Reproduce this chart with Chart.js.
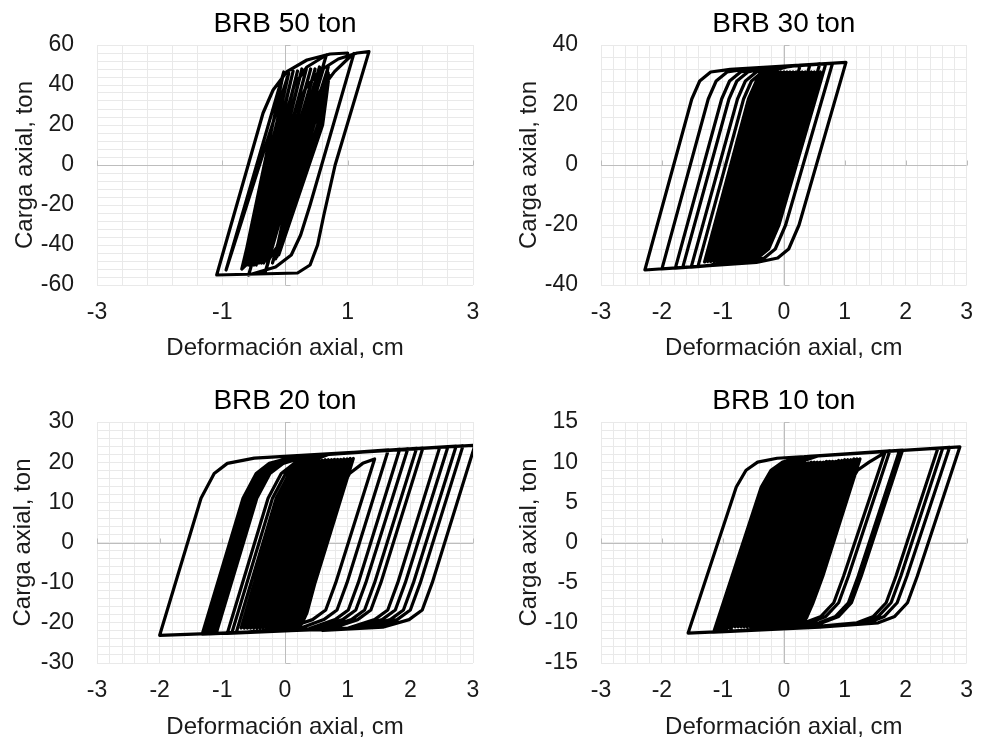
<!DOCTYPE html>
<html>
<head>
<meta charset="utf-8">
<script src="https://cdn.jsdelivr.net/npm/chart.js@4.4.1/dist/chart.umd.min.js"></script>
<style>
  html, body { margin: 0; padding: 0; background: #ffffff; }
  body { width: 987px; height: 741px; position: relative; overflow: hidden; }
  canvas { position: absolute; }
</style>
</head>
<body>
<canvas id="c1" width="494" height="370" style="left:0;top:0"></canvas>
<canvas id="c2" width="493" height="370" style="left:494px;top:0"></canvas>
<canvas id="c3" width="494" height="371" style="left:0;top:370px"></canvas>
<canvas id="c4" width="493" height="371" style="left:494px;top:370px"></canvas>
<script>
// ---- Data (deformation cm, axial load ton) ----
const titles = ['BRB 50 ton', 'BRB 30 ton', 'BRB 20 ton', 'BRB 10 ton'];
const xTitle = 'Deformación axial, cm';
const yTitle = 'Carga axial, ton';
const xMin = -3, xMax = 3;
const xMajor = [2, 1, 1, 1];
const xMinor = [0.4, 0.2, 0.2, 0.2];
const yLimit = [60, 40, 30, 15];
const yMajor = [20, 20, 10, 5];
const yMinor = [4, 4, 2, 1];

const brb50 = [
  [0,0],[-0.42,-44],[-0.69,-52],
  [0.05,45],[-0.94,-52.5],[-0.02,46.5],
  [-0.66,-49],[0.06,46],[-0.62,-50],[0.13,47],[-0.58,-50],[0.20,47],[-0.54,-50],[0.27,48],[-0.50,-50],[0.34,48],
  [-0.46,-50],[0.41,48],[-0.42,-49],[0.48,48],[-0.38,-49],[0.55,49],[-0.34,-49],[0.62,49],[-0.30,-48],[0.69,49],
  [0.0,-23],[-0.10,-38],[-0.20,-49],
  [0.52,20],[0.61,36],[0.68,47],
  [-0.02,-26],[-0.11,-39],[-0.15,-47],
  [0.56,20],[0.64,35],[0.69,46],
  [0.0,-25],[-0.09,-38],[-0.13,-46],
  [0.58,21],[0.65,36],[0.70,45],
  [0.03,-24],[-0.06,-37],[-0.10,-45],
  [0.60,20],[0.66,34],[0.70,44],
  [0.05,-22],[-0.05,-37],[-0.25,-47],[-0.66,-49],
  [0.02,26],[0.15,40],[0.35,49],[0.66,55],
  [-0.085,-24],[-0.20,-40],[-0.27,-49],[-0.32,-54],
  [0.41,26],[0.57,37.5],[0.79,46.7],[1.0,53],[1.10,55.8],
  [0.585,0],[0.40,-20],[0.25,-35],[0.10,-45],[-0.15,-51],[-0.58,-55],
  [0.16,26],[0.32,38],[0.55,47],[0.85,53],[1.15,56],[1.34,56.7],
  [0.80,0],[0.62,-25],[0.52,-40],[0.40,-50],[0.20,-54],[-1.09,-55],
  [-0.35,26],[-0.19,37.5],[0.03,46.7],[0.35,52.5],[0.72,55.5],[1.0,56]
];

const brb30 = [
  [0,0],[-0.29,-20],[-0.40,-27],
  [0.32,22],[0.46,29],[0.60,31],[-0.13,-20],[-0.28,-28],[-0.45,-31.5],
  [0.27,22],[0.41,29],[0.55,31],[-0.18,-20],[-0.33,-28],[-0.50,-31.5],
  [0.22,22],[0.36,29],[0.50,31],[-0.23,-20],[-0.38,-28],[-0.55,-31.6],
  [0.17,22],[0.31,29],[0.45,31],[-0.28,-20],[-0.43,-28],[-0.60,-31.6],
  [0.12,22],[0.26,29],[0.40,31],[-0.33,-20],[-0.48,-28],[-0.65,-31.7],
  [0.07,22],[0.21,29],[0.35,31],[-0.38,-20],[-0.53,-28],[-0.70,-31.7],
  [0.02,22],[0.16,29],[0.30,31],[-0.43,-20],[-0.58,-28],[-0.75,-31.8],
  [-0.03,22],[0.11,29],[0.25,31],[-0.48,-20],[-0.63,-28],[-0.80,-31.8],
  [-0.08,22],[0.06,29],[0.20,31],[-0.53,-20],[-0.68,-28],[-0.85,-31.9],
  [-0.13,22],[0.01,29],[0.15,31],[-0.58,-20],[-0.73,-28],[-0.90,-31.9],
  [-0.18,22],[-0.04,29],[0.10,31],[-0.63,-20],[-0.78,-28],[-0.95,-32],
  [-0.23,22],[-0.09,29],[0.05,31],[-0.68,-20],[-0.83,-28],[-1.00,-32],
  [-0.28,22],[-0.14,29],[0.0,31],[-0.73,-20],[-0.88,-28],[-1.05,-32],
  [-0.33,22],[-0.19,29],[-0.05,31],[-0.78,-20],[-0.93,-28],[-1.10,-32.1],
  [-0.38,22],[-0.24,29],[-0.10,31],[-0.83,-20],[-0.98,-28],[-1.15,-32.1],
  [-0.43,22],[-0.29,29],[-0.15,31],[-0.88,-20],[-1.03,-28],[-1.20,-32.2],
  [-0.48,22],[-0.34,29],[-0.20,31],[-0.93,-20],[-1.08,-28],[-1.25,-32.2],
  [-0.53,22],[-0.39,29],[-0.25,31],[-0.98,-20],[-1.13,-28],[-1.30,-32.3],
  [-0.58,22],[-0.45,28],[-0.27,31],[0.05,32.7],[0.27,33.3],
  [-0.49,-20],[-0.66,-28],[-0.84,-31],[-1.19,-33.35],[-1.41,-33.9],
  [-0.66,22],[-0.53,28],[-0.35,31],[-0.03,32.7],[0.43,33.5],
  [-0.33,-20],[-0.50,-28],[-0.68,-31],[-1.03,-33.2],[-1.52,-34.05],
  [-0.76,22],[-0.63,28],[-0.45,31],[-0.13,32.6],[0.59,33.7],
  [-0.18,-20],[-0.35,-28],[-0.53,-31],[-0.88,-33.0],[-1.66,-34.2],
  [-0.90,22],[-0.77,28],[-0.59,31],[-0.27,32.4],[0.69,33.8],
  [-0.08,-20],[-0.25,-28],[-0.43,-31],[-0.78,-32.9],[-1.78,-34.4],
  [-1.02,22],[-0.89,28],[-0.71,31],[-0.39,32.3],[0.80,33.9],
  [0.03,-20],[-0.14,-28],[-0.32,-31],[-0.67,-32.7],[-2.28,-35.0],
  [-1.51,22],[-1.38,28],[-1.20,31],[-0.88,31.9],[1.02,34.2],
  [0.25,-20],[0.08,-28],[-0.10,-31],[-0.45,-32.5],[-2.0,-34.6],
  [-1.24,22],[-1.11,28],[-0.93,31],[-0.61,32.0],[-0.2,32.7]
];

const brb20 = [
  [0,0],[-0.2,-10],[-0.45,-18.5],[-0.70,-21.3],
  [-0.08,11.5],[0.08,18],[0.24,20.3],[-0.37,-10],[-0.50,-17.5],[-0.58,-20.2],[-0.65,-21.3],
  [-0.03,11.5],[0.13,18],[0.29,20.3],[-0.32,-10],[-0.45,-17.5],[-0.53,-20.2],[-0.60,-21.3],
  [0.02,11.5],[0.18,18],[0.34,20.4],[-0.27,-10],[-0.40,-17.5],[-0.48,-20.2],[-0.55,-21.3],
  [0.07,11.5],[0.23,18],[0.39,20.4],[-0.22,-10],[-0.35,-17.5],[-0.43,-20.2],[-0.50,-21.3],
  [0.12,11.5],[0.28,18],[0.44,20.4],[-0.17,-10],[-0.30,-17.5],[-0.38,-20.2],[-0.45,-21.3],
  [0.17,11.5],[0.33,18],[0.49,20.5],[-0.12,-10],[-0.25,-17.5],[-0.33,-20.2],[-0.40,-21.3],
  [0.22,11.5],[0.38,18],[0.54,20.5],[-0.07,-10],[-0.20,-17.5],[-0.28,-20.2],[-0.35,-21.3],
  [0.27,11.5],[0.43,18],[0.59,20.5],[-0.02,-10],[-0.15,-17.5],[-0.23,-20.2],[-0.30,-21.3],
  [0.32,11.5],[0.48,18],[0.64,20.6],[0.03,-10],[-0.10,-17.5],[-0.18,-20.2],[-0.25,-21.3],
  [0.37,11.5],[0.53,18],[0.69,20.6],[0.08,-10],[-0.05,-17.5],[-0.13,-20.2],[-0.20,-21.3],
  [0.42,11.5],[0.58,18],[0.74,20.6],[0.13,-10],[0.0,-17.5],[-0.08,-20.2],[-0.15,-21.3],
  [0.47,11.5],[0.63,18],[0.79,20.7],[0.18,-10],[0.05,-17.5],[-0.03,-20.2],[-0.10,-21.3],
  [0.52,11.5],[0.68,18],[0.84,20.7],[0.23,-10],[0.10,-17.5],[0.02,-20.2],[-0.05,-21.3],
  [0.57,11.5],[0.73,18],[0.89,20.7],[0.28,-10],[0.15,-17.5],[0.07,-20.2],[0.0,-21.3],
  [0.62,11.5],[0.78,18],[0.94,20.8],[0.33,-10],[0.20,-17.5],[0.12,-20.2],[0.05,-21.3],
  [0.67,11.5],[0.83,18],[0.99,20.8],[0.38,-10],[0.25,-17.5],[0.17,-20.2],[0.10,-21.3],
  [0.72,11.5],[0.88,18],[1.04,20.9],[0.43,-10],[0.30,-17.5],[0.22,-20.2],[0.15,-21.3],
  [0.77,11.5],[0.93,18],[1.09,20.9],[0.48,-10],[0.35,-17.5],[0.27,-20.2],[0.20,-21.3],
  [0.82,11],[1.03,17.2],[1.24,19.7],[1.43,20.8],
  [0.81,-10],[0.65,-16.8],[0.44,-19.2],[0.02,-21.4],[-0.78,-22.55],
  [-0.14,11],[0.07,17.2],[0.28,19.7],[0.71,22.0],[1.65,23.07],
  [0.99,-10],[0.83,-16.8],[0.62,-19.2],[0.20,-21.6],[-1.10,-22.7],
  [-0.45,11],[-0.24,17.2],[-0.03,19.7],[0.40,21.7],[1.83,23.22],
  [1.17,-10],[1.01,-16.8],[0.80,-19.2],[0.38,-21.5],[-1.15,-22.72],
  [-0.50,11],[-0.29,17.2],[-0.08,19.7],[0.35,21.6],[1.96,23.33],
  [1.29,-10],[1.13,-16.8],[0.92,-19.2],[0.50,-21.5],[-0.85,-22.58],
  [-0.20,11],[0.01,17.2],[0.22,19.7],[0.65,21.9],[2.10,23.44],
  [1.43,-10],[1.27,-16.8],[1.06,-19.2],[0.64,-21.4],[-1.20,-22.74],
  [-0.55,11],[-0.34,17.2],[-0.13,19.7],[0.30,21.6],[2.20,23.53],
  [1.53,-10],[1.37,-16.8],[1.16,-19.2],[0.74,-21.4],[-1.25,-22.76],
  [-0.60,11],[-0.39,17.2],[-0.18,19.7],[0.25,21.6],[2.47,23.75],
  [1.80,-10],[1.64,-16.8],[1.43,-19.2],[1.01,-21.3],[-0.92,-22.61],
  [-0.27,11],[-0.06,17.2],[0.15,19.7],[0.58,21.9],[2.60,23.86],
  [1.92,-10],[1.76,-16.8],[1.55,-19.2],[1.13,-21.3],[-1.28,-22.78],
  [-0.63,11],[-0.42,17.2],[-0.21,19.7],[0.22,21.6],[2.73,23.97],
  [2.05,-10],[1.89,-16.8],[1.68,-19.2],[1.26,-21.2],[-1.32,-22.8],
  [-0.67,11],[-0.46,17.2],[-0.25,19.7],[0.18,21.5],[2.84,24.06],
  [2.16,-10],[2.00,-16.8],[1.79,-19.2],[1.37,-21.2],[-2.0,-23.1],
  [-1.34,11],[-1.13,17.2],[-0.92,19.7],[-0.49,21.0],[3.03,24.21],
  [2.35,-10],[2.19,-16.8],[1.98,-19.2],[1.56,-21.1],[0.6,-21.9]
];

const brb10 = [
  [0,0],[-0.18,-4.2],[-0.34,-7.5],[-0.55,-9.4],[-0.90,-10.6],
  [-0.19,6],[-0.04,8.8],[0.10,9.8],[-0.51,-4.2],[-0.67,-7.5],[-0.78,-9.4],[-0.85,-10.5],
  [-0.14,6],[0.01,8.8],[0.15,9.8],[-0.46,-4.2],[-0.62,-7.5],[-0.73,-9.4],[-0.80,-10.5],
  [-0.09,6],[0.06,8.8],[0.20,9.8],[-0.41,-4.2],[-0.57,-7.5],[-0.68,-9.4],[-0.75,-10.5],
  [-0.04,6],[0.11,8.8],[0.25,9.9],[-0.36,-4.2],[-0.52,-7.5],[-0.63,-9.4],[-0.70,-10.5],
  [0.01,6],[0.16,8.8],[0.30,9.9],[-0.31,-4.2],[-0.47,-7.5],[-0.58,-9.4],[-0.65,-10.5],
  [0.06,6],[0.21,8.8],[0.35,9.9],[-0.26,-4.2],[-0.42,-7.5],[-0.53,-9.4],[-0.60,-10.5],
  [0.11,6],[0.26,8.8],[0.40,9.9],[-0.21,-4.2],[-0.37,-7.5],[-0.48,-9.4],[-0.55,-10.5],
  [0.16,6],[0.31,8.8],[0.45,10],[-0.16,-4.2],[-0.32,-7.5],[-0.43,-9.4],[-0.50,-10.5],
  [0.21,6],[0.36,8.8],[0.50,10],[-0.11,-4.2],[-0.27,-7.5],[-0.38,-9.4],[-0.45,-10.5],
  [0.26,6],[0.41,8.8],[0.55,10],[-0.06,-4.2],[-0.22,-7.5],[-0.33,-9.4],[-0.40,-10.4],
  [0.31,6],[0.46,8.8],[0.60,10],[-0.01,-4.2],[-0.17,-7.5],[-0.28,-9.4],[-0.35,-10.4],
  [0.36,6],[0.51,8.8],[0.65,10],[0.04,-4.2],[-0.12,-7.5],[-0.23,-9.4],[-0.30,-10.4],
  [0.41,6],[0.56,8.8],[0.70,10.1],[0.09,-4.2],[-0.07,-7.5],[-0.18,-9.4],[-0.25,-10.4],
  [0.46,6],[0.61,8.8],[0.75,10.1],[0.14,-4.2],[-0.02,-7.5],[-0.13,-9.4],[-0.20,-10.4],
  [0.51,6],[0.66,8.8],[0.80,10.1],[0.19,-4.2],[0.03,-7.5],[-0.08,-9.4],[-0.15,-10.4],
  [0.56,6],[0.71,8.8],[0.85,10.1],[0.24,-4.2],[0.08,-7.5],[-0.03,-9.4],[-0.10,-10.4],
  [0.61,6],[0.76,8.8],[0.90,10.2],[0.29,-4.2],[0.13,-7.5],[0.02,-9.4],[-0.05,-10.4],
  [0.66,6],[0.81,8.8],[0.95,10.2],[0.34,-4.2],[0.18,-7.5],[0.07,-9.4],[0.0,-10.4],
  [0.71,6],[0.86,8.8],[1.00,10.3],[0.39,-4.2],[0.23,-7.5],[0.12,-9.4],[0.05,-10.4],
  [0.76,6],[0.91,8.8],[1.05,10.3],[0.44,-4.2],[0.28,-7.5],[0.17,-9.4],[0.10,-10.4],
  [0.81,6],[0.96,8.8],[1.10,10.3],[0.49,-4.2],[0.33,-7.5],[0.22,-9.4],[0.15,-10.4],
  [0.86,6],[1.01,8.8],[1.15,10.4],[0.54,-4.2],[0.38,-7.5],[0.27,-9.4],[0.20,-10.3],
  [0.91,6],[1.06,8.8],[1.20,10.4],[0.59,-4.2],[0.43,-7.5],[0.32,-9.4],[0.25,-10.3],
  [0.96,6],[1.11,8.8],[1.25,10.4],[0.64,-4.2],[0.48,-7.5],[0.37,-9.4],[0.30,-10.3],
  [1.05,6.9],[1.21,9.0],[1.40,10.0],[1.66,11.2],
  [0.98,-4.2],[0.82,-7.5],[0.61,-9.2],[0.34,-10.0],[-0.62,-10.9],[-1.0,-11.11],
  [-0.22,6.9],[-0.06,9.0],[0.13,10.0],[0.45,10.74],[1.74,11.41],
  [1.06,-4.2],[0.90,-7.5],[0.69,-9.2],[0.42,-10.0],[-0.54,-10.9],[-0.95,-11.09],
  [-0.17,6.9],[-0.01,9.0],[0.18,10.0],[0.50,10.76],[1.90,11.48],
  [1.22,-4.2],[1.06,-7.5],[0.85,-9.2],[0.58,-10.0],[-0.38,-10.8],[-1.10,-11.13],
  [-0.32,6.9],[-0.16,9.0],[0.03,10.0],[0.35,10.7],[1.95,11.5],
  [1.27,-4.2],[1.11,-7.5],[0.90,-9.2],[0.63,-10.0],[-0.33,-10.8],[-0.88,-11.07],
  [-0.10,6.9],[0.06,9.0],[0.25,10.0],[0.57,10.79],[2.53,11.75],
  [1.84,-4.2],[1.68,-7.5],[1.47,-9.2],[1.20,-10.0],[0.24,-10.65],[-1.05,-11.12],
  [-0.27,6.9],[-0.11,9.0],[0.08,10.0],[0.40,10.72],[2.61,11.79],
  [1.92,-4.2],[1.76,-7.5],[1.55,-9.2],[1.28,-10.0],[0.32,-10.63],[-1.15,-11.15],
  [-0.37,6.9],[-0.21,9.0],[-0.02,10.0],[0.30,10.67],[2.72,11.84],
  [2.02,-4.2],[1.86,-7.5],[1.65,-9.2],[1.38,-10.0],[0.42,-10.6],[-1.57,-11.27],
  [-0.78,6.9],[-0.62,9.0],[-0.43,10.0],[-0.11,10.49],[2.89,11.91],
  [2.19,-4.2],[2.03,-7.5],[1.82,-9.2],[1.55,-10.0],[0.59,-10.55],[-1.15,-11.15]
];

const series = [brb50, brb30, brb20, brb10];

// ---- Layout (pixel geometry of each panel) ----
const panels = [
  { id: 'c1', pad: { left: 0, top: 45, right: 21, bottom: 0 }, yW: 97,  xH: 85, yTitlePad: 13, xTitlePad: 10 },
  { id: 'c2', pad: { left: 0, top: 45, right: 9,  bottom: 0 }, yW: 107, xH: 85, yTitlePad: 23, xTitlePad: 10 },
  { id: 'c3', pad: { left: 0, top: 52, right: 21, bottom: 0 }, yW: 97,  xH: 78, yTitlePad: 11, xTitlePad: 2 },
  { id: 'c4', pad: { left: 0, top: 52, right: 9,  bottom: 0 }, yW: 107, xH: 78, yTitlePad: 23, xTitlePad: 2 }
];

const FONT = '"Liberation Sans", Arial, Helvetica, sans-serif';
const TEXT = '#1a1a1a';

function isMajor(v, min, step) {
  const r = (v - min) / step;
  return Math.abs(r - Math.round(r)) < 1e-6;
}

const axesPlugin = {
  id: 'excelAxes',
  beforeDatasetsDraw(chart, args, opts) {
    const { ctx, chartArea: a, scales: { x, y } } = chart;
    const x0 = Math.round(x.getPixelForValue(0)) + 0.5;
    const y0 = Math.round(y.getPixelForValue(0)) + 0.5;
    ctx.save();
    ctx.strokeStyle = '#bdbdbd';
    ctx.lineWidth = 1;
    ctx.beginPath();
    ctx.moveTo(a.left, y0); ctx.lineTo(a.right, y0);
    ctx.moveTo(x0, a.top); ctx.lineTo(x0, a.bottom);
    x.ticks.forEach(t => {
      if (isMajor(t.value, xMin, opts.xMajor)) {
        const px = Math.round(x.getPixelForValue(t.value)) + 0.5;
        ctx.moveTo(px, y0); ctx.lineTo(px, y0 - 5);
      }
    });
    y.ticks.forEach(t => {
      if (isMajor(t.value, -opts.yLim, opts.yMajor)) {
        const py = Math.round(y.getPixelForValue(t.value)) + 0.5;
        ctx.moveTo(x0, py); ctx.lineTo(x0 + 5, py);
      }
    });
    ctx.stroke();
    ctx.restore();
  },
  afterDraw(chart, args, opts) {
    const { ctx, chartArea: a } = chart;
    ctx.save();
    ctx.font = '28px ' + FONT;
    ctx.fillStyle = '#000';
    ctx.textAlign = 'center';
    ctx.textBaseline = 'middle';
    ctx.fillText(opts.title, (a.left + a.right) / 2, a.top - 21);
    ctx.restore();
  }
};

panels.forEach((p, i) => {
  const lim = yLimit[i];
  new Chart(document.getElementById(p.id), {
    type: 'scatter',
    data: {
      datasets: [{
        data: series[i].map(([x, y]) => ({ x, y })),
        showLine: true,
        borderColor: '#000000',
        borderWidth: 3.2,
        borderJoinStyle: 'round',
        borderCapStyle: 'round',
        pointRadius: 0,
        pointHoverRadius: 0,
        fill: false,
        tension: 0
      }]
    },
    options: {
      responsive: false,
      animation: false,
      devicePixelRatio: 1,
      events: [],
      layout: { padding: p.pad },
      plugins: {
        legend: { display: false },
        tooltip: { enabled: false },
        title: { display: false },
        excelAxes: { title: titles[i], xMajor: xMajor[i], yMajor: yMajor[i], yLim: lim }
      },
      scales: {
        x: {
          type: 'linear',
          position: 'bottom',
          min: xMin, max: xMax,
          afterFit: s => { s.height = p.xH; },
          grid: { color: '#e9e9e9', lineWidth: 1, drawTicks: false },
          border: { display: false },
          ticks: {
            stepSize: xMinor[i],
            autoSkip: false,
            maxRotation: 0,
            minRotation: 0,
            padding: 14,
            color: TEXT,
            font: { family: FONT, size: 23 },
            callback: v => isMajor(v, xMin, xMajor[i]) ? String(Math.round(v)) : ''
          },
          title: {
            display: true,
            text: xTitle,
            color: TEXT,
            font: { family: FONT, size: 24, lineHeight: 1 },
            padding: { top: 0, bottom: p.xTitlePad }
          }
        },
        y: {
          type: 'linear',
          position: 'left',
          min: -lim, max: lim,
          afterFit: s => { s.width = p.yW; },
          grid: { color: '#e9e9e9', lineWidth: 1, drawTicks: false },
          border: { display: false },
          ticks: {
            stepSize: yMinor[i],
            autoSkip: false,
            padding: 23,
            color: TEXT,
            font: { family: FONT, size: 23 },
            callback: v => isMajor(v, -lim, yMajor[i]) ? String(Math.round(v)) : ''
          },
          title: {
            display: true,
            text: yTitle,
            color: TEXT,
            font: { family: FONT, size: 24, lineHeight: 1 },
            padding: { top: p.yTitlePad, bottom: 0 }
          }
        }
      }
    },
    plugins: [axesPlugin]
  });
});
</script>
</body>
</html>
